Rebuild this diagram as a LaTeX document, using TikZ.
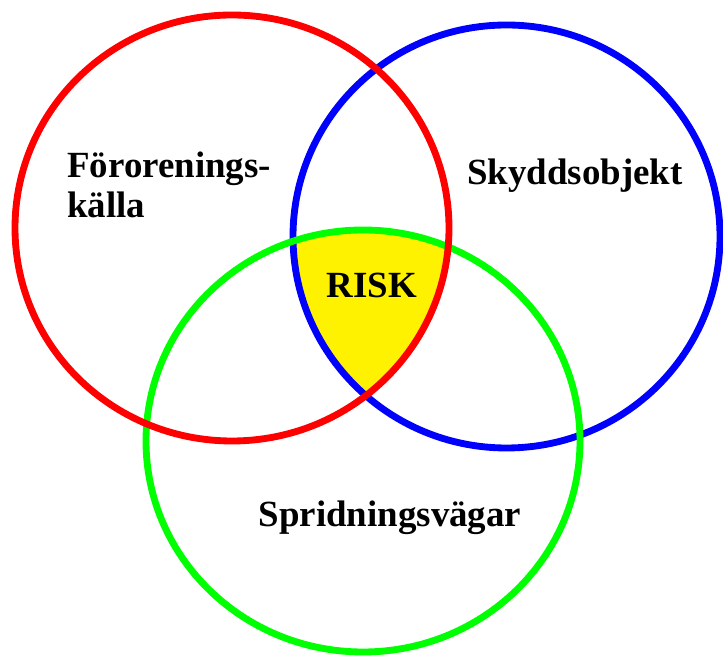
\documentclass[tikz,border=0pt]{standalone}
\usepackage{fontspec}
\setmainfont{Liberation Serif}

\begin{document}
\begin{tikzpicture}
    [ring/.style = {line width = 3.9pt},
     txt/.style = {font = \bfseries\fontsize{21}{23}\selectfont, inner sep = 0pt}]
    \useasboundingbox (0,0) rectangle (14.46,13.14);
    \coordinate (cr) at (4.64,8.58);
    \coordinate (cb) at (10.13,8.41);
    \coordinate (cg) at (7.26,4.32);
    % overlap of all three
    \begin{scope}
      \clip (cr) ellipse [x radius = 4.34, y radius = 4.26];
      \clip (cb) ellipse [x radius = 4.27, y radius = 4.23];
      \fill[yellow] (cg) ellipse [x radius = 4.34, y radius = 4.22];
    \end{scope}
    \foreach \c/\col/\rx/\ry in {cb/blue/4.27/4.23, cg/green/4.34/4.22, cr/red/4.34/4.26}
      \draw[ring, \col] (\c) ellipse [x radius = \rx, y radius = \ry];
    \node[txt, align = left, anchor = base west] (src) at (1.34,8.78) {Förorenings-\\källa};
    \node[txt, anchor = base] (obj) at (11.5,9.44) {Skyddsobjekt};
    \node[txt, anchor = base] (risk) at (7.44,7.18) {RISK};
    \node[txt, anchor = base] (path) at (7.8,2.6) {Spridningsvägar};
  \end{tikzpicture}
\end{document}
